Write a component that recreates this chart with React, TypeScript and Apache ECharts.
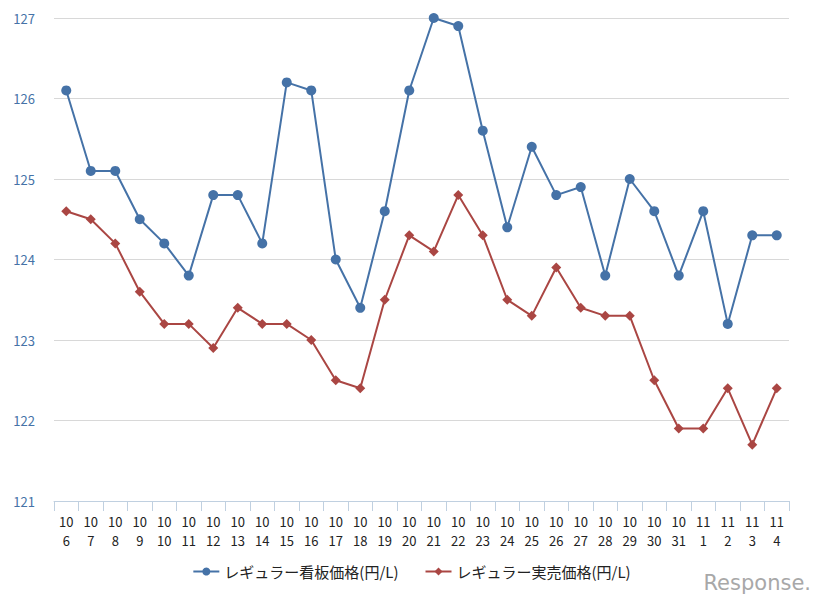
import React, { useEffect, useRef } from "react";
import * as echarts from "echarts";

const months = ["10","10","10","10","10","10","10","10","10","10","10","10","10","10","10","10","10","10","10","10","10","10","10","10","10","10","11","11","11","11"];
const days = ["6","7","8","9","10","11","12","13","14","15","16","17","18","19","20","21","22","23","24","25","26","27","28","29","30","31","1","2","3","4"];
const categories = months.map((m, i) => m + "\n" + days[i]);

const signPrice = [126.1,125.1,125.1,124.5,124.2,123.8,124.8,124.8,124.2,126.2,126.1,124.0,123.4,124.6,126.1,127.0,126.9,125.6,124.4,125.4,124.8,124.9,123.8,125.0,124.6,123.8,124.6,123.2,124.3,124.3];
const actualPrice = [124.6,124.5,124.2,123.6,123.2,123.2,122.9,123.4,123.2,123.2,123.0,122.5,122.4,123.5,124.3,124.1,124.8,124.3,123.5,123.3,123.9,123.4,123.3,123.3,122.5,121.9,121.9,122.4,121.7,122.4];

const seriesNames = ["レギュラー看板価格(円/L)", "レギュラー実売価格(円/L)"];
const yTicks = { min: 121, max: 127, interval: 1 };

export default function App() {
  const ref = useRef<HTMLDivElement>(null);
  useEffect(() => {
    if (!ref.current) return;
    const chart = echarts.init(ref.current, undefined, { renderer: "svg" });
    chart.setOption({
      animation: false,
      textStyle: { fontFamily: "'Noto Sans CJK JP', 'Noto Sans', sans-serif" },
      grid: { left: 54, right: 34, top: 18, bottom: 104, containLabel: false },
      legend: {
        bottom: 21,
        left: "center",
        itemGap: 26,
        itemWidth: 26,
        itemHeight: 10,
        textStyle: { fontSize: 15, color: "#222" },
        data: seriesNames,
      },
      xAxis: {
        type: "category",
        data: categories,
        boundaryGap: true,
        axisLine: { lineStyle: { color: "#C0D0E0", width: 1 } },
        axisTick: { show: true, length: 10, lineStyle: { color: "#C0D0E0" } },
        axisLabel: { color: "#222", fontSize: 13, lineHeight: 19, margin: 11, interval: 0 },
      },
      yAxis: {
        type: "value",
        min: yTicks.min,
        max: yTicks.max,
        interval: yTicks.interval,
        axisLine: { show: false },
        axisTick: { show: false },
        splitLine: { lineStyle: { color: "#D8D8D8", width: 1 } },
        axisLabel: { color: "#4572A7", fontSize: 13, margin: 19 },
      },
      series: [
        {
          name: seriesNames[0],
          type: "line",
          data: signPrice,
          symbol: "circle",
          symbolSize: 10,
          itemStyle: { color: "#4572A7" },
          lineStyle: { color: "#4572A7", width: 2 },
        },
        {
          name: seriesNames[1],
          type: "line",
          data: actualPrice,
          symbol: "diamond",
          symbolSize: 10,
          itemStyle: { color: "#AA4643" },
          lineStyle: { color: "#AA4643", width: 2 },
        },
      ],
      graphic: [
        {
          type: "text",
          right: 12,
          bottom: 12,
          style: {
            text: "Response.",
            fontSize: 21,
            fontFamily: "'DejaVu Sans', sans-serif",
            fill: "#a8a8a8",
          },
        },
      ],
    });
    return () => chart.dispose();
  }, []);
  return (
    <div
      ref={ref}
      style={{ width: 823, height: 605, position: "absolute", left: 0, top: 0, background: "#fff" }}
    />
  );
}
